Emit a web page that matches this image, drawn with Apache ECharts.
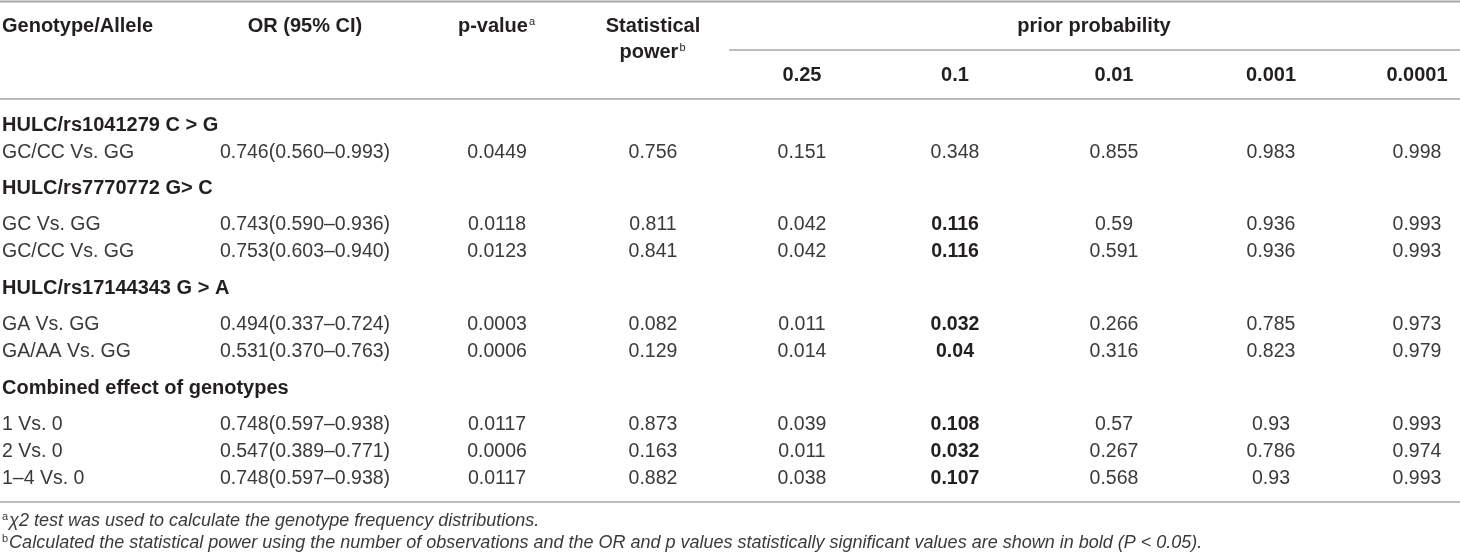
<!DOCTYPE html>
<html>
<head>
<meta charset="utf-8">
<script src="https://cdn.jsdelivr.net/npm/echarts@6/dist/echarts.min.js"></script>
<style>
html, body { margin: 0; padding: 0; background: #fff; }
#main { width: 1460px; height: 560px; }
</style>
</head>
<body>
<div id="main"></div>
<script>
// table content
var groupNames = ['HULC/rs1041279 C > G', 'HULC/rs7770772 G> C', 'HULC/rs17144343 G > A', 'Combined effect of genotypes'];
var rowLabels = ['GC/CC Vs. GG', 'GC Vs. GG', 'GC/CC Vs. GG', 'GA Vs. GG', 'GA/AA Vs. GG', '1 Vs. 0', '2 Vs. 0', '1–4 Vs. 0'];
var orCI = ['0.746(0.560–0.993)', '0.743(0.590–0.936)', '0.753(0.603–0.940)', '0.494(0.337–0.724)', '0.531(0.370–0.763)', '0.748(0.597–0.938)', '0.547(0.389–0.771)', '0.748(0.597–0.938)'];
var pValues = ['0.0449', '0.0118', '0.0123', '0.0003', '0.0006', '0.0117', '0.0006', '0.0117'];
var powers = ['0.756', '0.811', '0.841', '0.082', '0.129', '0.873', '0.163', '0.882'];
var priorLabels = ['0.25', '0.1', '0.01', '0.001', '0.0001'];
var prior025 = ['0.151', '0.042', '0.042', '0.011', '0.014', '0.039', '0.011', '0.038'];
var prior01 = ['0.348', '0.116', '0.116', '0.032', '0.04', '0.108', '0.032', '0.107'];
var prior001 = ['0.855', '0.59', '0.591', '0.266', '0.316', '0.57', '0.267', '0.568'];
var prior0001 = ['0.983', '0.936', '0.936', '0.785', '0.823', '0.93', '0.786', '0.93'];
var prior00001 = ['0.998', '0.993', '0.993', '0.973', '0.979', '0.993', '0.974', '0.993'];
var bold01 = [false, true, true, true, true, true, true, true];
var footA = 'χ2 test was used to calculate the genotype frequency distributions.';
var footB = 'Calculated the statistical power using the number of observations and the OR and p values statistically significant values are shown in bold (P < 0.05).';

// layout
var FONT = '"Liberation Sans", Arial, sans-serif';
var TXT = '#231f20';
var TXT_LIGHT = '#3a3a3a';
var RULE = '#a6a6a6';
var colX = [2, 305, 497, 653, 802, 955, 1114, 1271, 1417];
var groupY = [125, 188, 288, 388];
var rowY = [153, 225, 252, 325, 352, 425, 452, 479];

var chart = echarts.init(document.getElementById('main'));
var els = [];

function txt(s, x, y, align, bold, size, extra) {
  var st = {
    text: s, x: x, y: y,
    textAlign: align, textVerticalAlign: 'middle',
    fill: bold ? TXT : TXT_LIGHT,
    font: (bold ? 'bold ' : '') + size + 'px ' + FONT
  };
  if (extra) { for (var k in extra) st[k] = extra[k]; }
  els.push({ type: 'text', style: st, silent: true });
}
function rule(x1, x2, y, w) {
  els.push({ type: 'line', shape: { x1: x1, y1: y, x2: x2, y2: y }, style: { stroke: RULE, lineWidth: w || 1.5 }, silent: true });
}

var supRich = {
  s: { fontSize: 11, fontFamily: FONT, fill: TXT, verticalAlign: 'top', padding: [0, 1, 9, 1] }
};

// rules
rule(0, 1460, 1.5, 2);
rule(729, 1460, 50, 1.5);
rule(0, 1460, 99, 1.5);
rule(0, 1460, 502, 1.5);

// header
txt('Genotype/Allele', colX[0], 26, 'left', true, 20);
txt('OR (95% CI)', colX[1], 26, 'center', true, 20);
txt('p-value{s|a}', colX[2], 26, 'center', true, 20, { rich: supRich });
txt('Statistical', colX[3], 26, 'center', true, 20);
txt('power{s|b}', colX[3], 52, 'center', true, 20, { rich: supRich });
txt('prior probability', 1094, 26, 'center', true, 20);
priorLabels.forEach(function (p, i) { txt(p, colX[4 + i], 75, 'center', true, 20); });

// body
groupNames.forEach(function (g, i) { txt(g, colX[0], groupY[i], 'left', true, 20); });
var cols = [orCI, pValues, powers, prior025, prior01, prior001, prior0001, prior00001];
rowLabels.forEach(function (lab, r) {
  txt(lab, colX[0], rowY[r], 'left', false, 19.5);
  cols.forEach(function (c, j) {
    var b = (c === prior01) && bold01[r];
    txt(c[r], colX[1 + j], rowY[r], 'center', b, 19.5);
  });
});

// footnotes
var footRich = {
  s: { fontSize: 11, fontFamily: FONT, fill: TXT_LIGHT, verticalAlign: 'top', padding: [0, 1, 9, 0] }
};
txt('{s|a}' + footA, colX[0], 521, 'left', false, 18, { rich: footRich, font: 'italic 18px ' + FONT });
txt('{s|b}' + footB, colX[0], 543, 'left', false, 18, { rich: footRich, font: 'italic 18px ' + FONT });

chart.setOption({
  backgroundColor: '#fff',
  animation: false,
  graphic: { elements: els }
});
window.onresize = chart.resize;
</script>
</body>
</html>
